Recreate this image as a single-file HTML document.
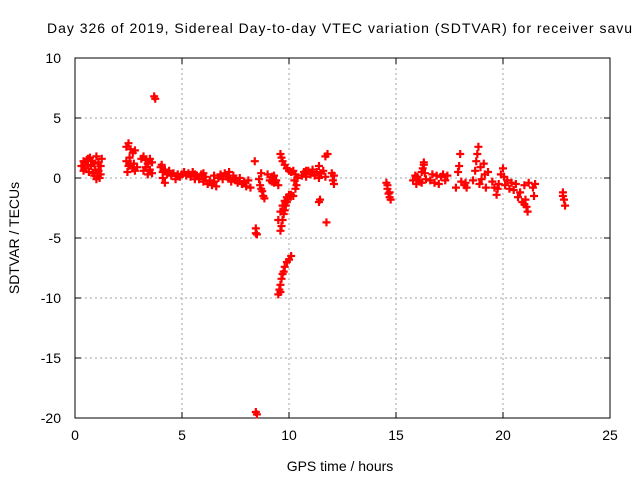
<!DOCTYPE html>
<html><head><meta charset="utf-8"><style>
body{margin:0;background:#fff}
svg{display:block;font-family:"Liberation Sans",sans-serif}
</style></head><body>
<svg id="chart" width="640" height="480" viewBox="0 0 640 480">
<rect width="640" height="480" fill="#fff"/>
<text x="47" y="33" font-size="14" textLength="585" lengthAdjust="spacing" fill="#000">Day 326 of 2019, Sidereal Day-to-day VTEC variation (SDTVAR) for receiver savu</text>
<g id="grid"></g>
<g id="axes"></g>
<g id="points"></g>
<text transform="translate(19,238) rotate(-90)" text-anchor="middle" font-size="14">SDTVAR / TECUs</text>
<text x="340" y="471" text-anchor="middle" font-size="14">GPS time / hours</text>
</svg>
<script>
const xTicks=[0,5,10,15,20,25];
const yTicks=[10,5,0,-5,-10,-15,-20];
const xs=[0.3,0.4,0.45,0.5,0.55,0.6,0.65,0.7,0.75,0.8,0.85,0.9,0.95,1.0,1.05,1.1,1.15,1.2,1.25,1.0,0.9,1.1,0.6,0.4,1.2,
2.4,2.5,2.6,2.7,2.8,2.4,2.5,2.6,2.7,2.8,2.45,2.55,2.75,2.9,
3.1,3.2,3.3,3.4,3.5,3.6,3.2,3.3,3.5,3.6,3.4,3.7,3.75,
4.0,4.05,4.1,4.1,4.2,4.2,4.3,4.4,4.5,4.6,4.7,4.8,4.9,5.0,5.1,5.2,5.3,5.4,5.5,5.6,5.7,5.8,5.9,6.0,6.1,6.2,6.3,6.4,6.5,6.6,6.7,6.8,6.9,7.0,7.1,7.2,7.3,7.4,7.5,7.6,7.7,7.8,7.9,8.0,8.1,8.2,6.0,5.6,6.5,7.2,
8.4,8.45,8.45,8.5,8.45,8.5,
8.6,8.7,8.65,8.7,8.8,8.85,8.75,
9.0,9.1,9.2,9.3,9.4,9.5,9.3,9.2,
9.6,9.65,9.7,9.8,9.9,10.0,10.1,10.2,
9.5,9.6,9.7,9.8,9.9,10.0,10.1,10.2,
9.6,9.65,9.7,9.75,9.8,9.85,9.9,9.95,
9.5,9.55,9.6,9.65,9.7,9.75,9.8,9.9,10.0,10.1,9.6,
10.25,10.3,10.35,10.4,10.3,
10.6,10.7,10.8,10.9,11.0,11.1,11.2,11.3,11.4,11.5,11.6,11.7,11.4,10.8,
11.4,11.45,11.7,11.8,11.75,12.0,12.05,12.1,12.1,
14.55,14.6,14.65,14.7,14.75,14.6,14.7,
15.8,15.9,15.95,16.0,16.1,16.2,16.25,16.3,16.35,16.4,16.3,16.2,
16.6,16.7,16.8,16.9,17.0,17.1,17.2,17.3,17.4,
17.8,17.9,17.95,18.0,18.05,18.2,18.3,18.25,
18.6,18.7,18.75,18.8,18.85,18.9,18.95,19.0,19.1,19.15,19.2,19.3,
19.5,19.6,19.7,19.8,19.9,20.0,20.05,20.1,20.2,20.3,20.4,19.75,
20.5,20.6,20.7,20.8,20.9,21.0,21.05,21.1,21.15,21.2,21.0,
21.4,21.45,21.5,22.8,22.85,22.9,22.8];
const ys=[1.0,0.6,1.3,0.8,1.5,1.1,0.5,1.7,1.0,1.4,0.4,1.2,0.7,1.8,0.2,1.3,0.0,1.0,1.6,-0.1,0.2,0.6,1.6,1.4,0.3,
2.6,2.9,2.4,2.1,2.3,1.4,1.0,1.2,0.8,0.6,0.5,1.7,1.2,0.9,
1.6,1.8,1.5,1.2,1.6,1.3,0.6,0.9,0.7,0.4,0.3,6.8,6.6,
0.9,1.1,0.5,0.0,-0.4,0.7,0.3,0.6,0.2,0.4,-0.1,0.3,0.1,0.3,0.5,0.2,0.4,0.1,0.5,0.3,0.2,-0.1,0.3,-0.3,0.1,-0.5,-0.2,-0.6,-0.3,-0.7,0.0,0.3,-0.1,0.4,0.1,0.0,-0.3,0.2,-0.2,-0.4,0.0,-0.5,-0.3,-0.7,-0.2,-0.8,0.4,-0.1,0.2,0.5,
1.4,-4.2,-4.6,-4.7,-19.5,-19.7,
-0.1,0.4,-0.6,-0.9,-1.5,-1.7,-1.1,
0.3,-0.2,0.1,-0.4,-0.2,-0.6,0.2,-0.3,
2.0,1.7,1.4,1.1,0.8,0.6,0.5,0.6,
-3.5,-2.8,-2.3,-1.9,-1.6,-1.4,-1.4,-1.5,
-4.4,-4.0,-3.5,-3.0,-2.7,-2.3,-2.0,-1.8,
-9.7,-9.3,-8.9,-8.4,-8.0,-7.8,-7.4,-7.0,-6.8,-6.5,-9.5,
-0.2,0.3,-0.6,0.0,-0.9,
0.2,0.5,0.1,0.6,0.3,0.7,0.2,0.5,0.0,0.4,0.6,0.1,1.0,0.6,
-2.0,-1.8,1.8,2.0,-3.7,0.4,-0.2,0.2,-0.5,
-0.4,-0.9,-1.3,-1.6,-1.8,-0.6,-1.2,
-0.2,0.2,-0.5,0.1,-0.3,0.5,0.8,1.1,0.4,-0.1,1.3,-0.4,
-0.2,0.3,-0.4,0.2,-0.5,0.1,0.3,-0.2,0.2,
-0.8,0.5,1.0,2.0,-0.3,-0.6,-0.8,-0.4,
-0.2,0.6,1.4,2.0,2.6,-0.5,0.9,-0.1,1.2,0.3,-0.8,0.5,
-0.3,-0.8,-1.4,-0.5,0.3,0.8,0.1,-0.6,-0.2,-0.9,-0.4,-0.9,
-1.0,-0.5,-1.6,-1.2,-2.0,-0.6,-1.8,-2.4,-2.8,-0.4,-2.2,
-0.8,-1.5,-0.5,-1.2,-1.8,-2.3,-1.5];
const X0=75,X1=610,Y0=58,Y1=418;
const sx=v=>X0+(v-0)/(25-0)*(X1-X0);
const sy=v=>Y0+(10-v)/(10-(-20))*(Y1-Y0);
const NS='http://www.w3.org/2000/svg';
function mk(tag,attrs,parent){const e=document.createElementNS(NS,tag);for(const k in attrs)e.setAttribute(k,attrs[k]);parent.appendChild(e);return e;}
const grid=document.getElementById('grid'),axes=document.getElementById('axes'),pts=document.getElementById('points');
xTicks.forEach(t=>{const x=sx(t);
 if(t>0&&t<25){const l=mk('line',{x1:x,x2:x,y1:Y0,y2:Y1,stroke:'#a0a0a0','stroke-dasharray':'2,3'},grid);
 
 }
 mk('line',{x1:x,x2:x,y1:Y1,y2:Y1-6,stroke:'#000'},axes);
 mk('line',{x1:x,x2:x,y1:Y0,y2:Y0+6,stroke:'#000'},axes);
 const tx=mk('text',{x:x,y:Y1+22,'text-anchor':'middle','font-size':'14'},axes);tx.textContent=t;
 
 
});
yTicks.forEach(t=>{const y=sy(t);
 if(t<10&&t>-20){const l=mk('line',{x1:X0,x2:X1,y1:y,y2:y,stroke:'#a0a0a0','stroke-dasharray':'2,3'},grid);
 
 }
 mk('line',{x1:X0,x2:X0+6,y1:y,y2:y,stroke:'#000'},axes);
 mk('line',{x1:X1,x2:X1-6,y1:y,y2:y,stroke:'#000'},axes);
 const tx=mk('text',{x:X0-14,y:y+5,'text-anchor':'end','font-size':'14'},axes);tx.textContent=t;
 
 
});
const fr=mk('rect',{x:X0,y:Y0,width:X1-X0,height:Y1-Y0,fill:'none',stroke:'#000'},axes);


for(let i=0;i<xs.length;i++){const x=sx(xs[i]),y=sy(ys[i]);
 const p=mk('path',{d:`M${x-4},${y}H${x+4}M${x},${y-4}V${y+4}`,stroke:'#ff0000','stroke-width':'2.2',fill:'none'},pts);
 
 
}
</script>
</body></html>
